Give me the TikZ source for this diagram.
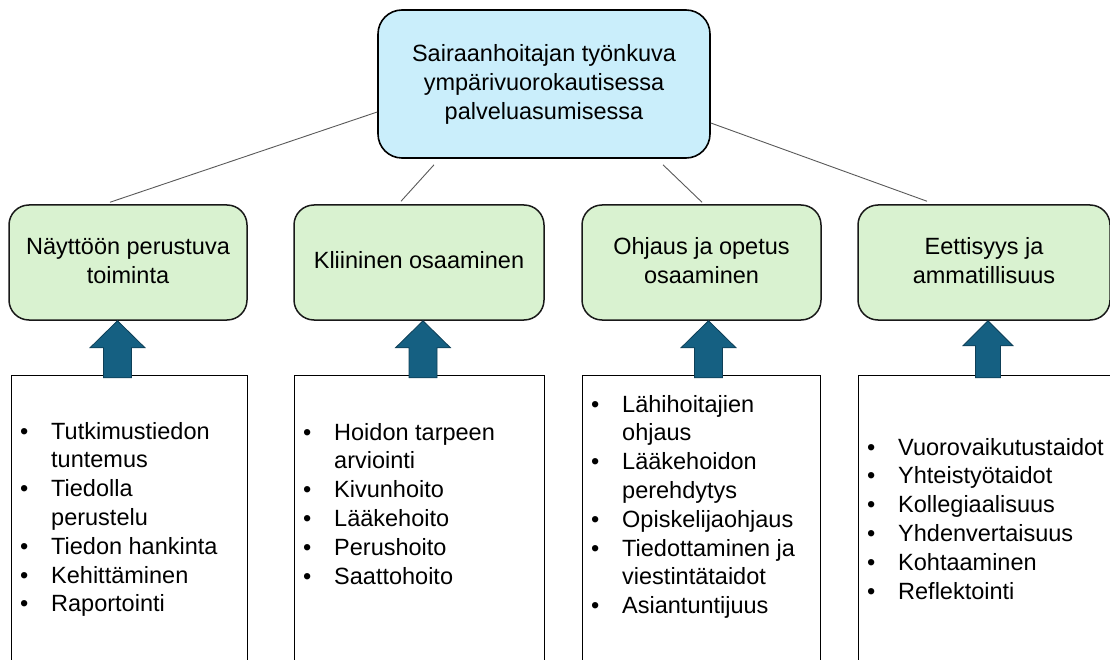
\documentclass[tikz,border=0pt]{standalone}
\usepackage{fontspec}
\setmainfont{Liberation Sans}
\usetikzlibrary{calc}
\definecolor{topfill}{HTML}{CAEEFB}
\definecolor{greenfill}{HTML}{D9F2D0}
\definecolor{arrfill}{HTML}{156082}
\definecolor{arrline}{HTML}{0E3F57}
\definecolor{connc}{HTML}{595959}
\newcommand{\mystr}{\rule[-6pt]{0pt}{25pt}}
\begin{document}
\begin{tikzpicture}[x=1pt,y=-1pt,
  txt/.style={font=\fontsize{23.5}{28.8}\selectfont, text=black},
  topbox/.style={txt, draw=black, line width=1.6pt, fill=topfill, rounded corners=24pt,
    align=center, inner sep=0pt, minimum width=332pt, minimum height=148pt},
  catbox/.style={txt, draw=black!90, line width=1.5pt, fill=greenfill, rounded corners=20pt,
    align=center, inner sep=0pt, minimum height=115pt},
  listbox/.style={draw=black, line width=1.4pt, fill=white, minimum height=300pt,
    anchor=north west, inner sep=0pt},
  listtxt/.style={txt, anchor=base west, inner sep=0pt},
  conn/.style={draw=connc, line width=0.9pt},
  blockarrow/.style={fill=arrfill, draw=arrline, line width=0.8pt, line join=miter}]
\useasboundingbox (0,0) rectangle (1110,660);
\clip (0,0) rectangle (1110,660);

% top box
\node[topbox] (top) at (544,84) {\mystr Sairaanhoitajan työnkuva\\ \mystr ympärivuorokautisessa\\ \mystr palveluasumisessa};

% category boxes
\node[catbox, minimum width=238pt] (g1) at (128,262.5) {\mystr Näyttöön perustuva\\ \mystr toiminta};
\node[catbox, minimum width=250pt] (g2) at (419,262.5) {\mystr Kliininen osaaminen};
\node[catbox, minimum width=239pt] (g3) at (701.5,262.5) {\mystr Ohjaus ja opetus\\ \mystr osaaminen};
\node[catbox, minimum width=252pt] (g4) at (984,262.5) {\mystr Eettisyys ja\\ \mystr ammatillisuus};

% connectors
\draw[conn] ([yshift=-28pt]top.west) -- ([xshift=-18pt,yshift=2pt]g1.north);
\draw[conn] ([xshift=-110pt,yshift=-6pt]top.south) -- ([xshift=-18pt,yshift=3pt]g2.north);
\draw[conn] ([xshift=119pt,yshift=-6pt]top.south) -- ([xshift=0.5pt,yshift=2pt]g3.north);
\draw[conn] ([yshift=-39pt]top.east) -- ([xshift=-57pt,yshift=3pt]g4.north);

% list boxes
\node[listbox, minimum width=236pt] (b1) at (11,375) {};
\node[listbox, minimum width=250pt] (b2) at (294,375) {};
\node[listbox, minimum width=238pt] (b3) at (582,375) {};
\node[listbox, minimum width=262pt] (b4) at (858,375) {};

\node[listtxt] (l1) at (20,439) {\begin{tabular}[t]{@{}p{31pt}@{}l@{}}
\textbullet & Tutkimustiedon\\ & tuntemus\\
\textbullet & Tiedolla\\ & perustelu\\
\textbullet & Tiedon hankinta\\
\textbullet & Kehittäminen\\
\textbullet & Raportointi
\end{tabular}};
\node[listtxt] (l2) at (303,440) {\begin{tabular}[t]{@{}p{31pt}@{}l@{}}
\textbullet & Hoidon tarpeen\\ & arviointi\\
\textbullet & Kivunhoito\\
\textbullet & Lääkehoito\\
\textbullet & Perushoito\\
\textbullet & Saattohoito
\end{tabular}};
\node[listtxt] (l3) at (591,412) {\begin{tabular}[t]{@{}p{31pt}@{}l@{}}
\textbullet & Lähihoitajien\\ & ohjaus\\
\textbullet & Lääkehoidon\\ & perehdytys\\
\textbullet & Opiskelijaohjaus\\
\textbullet & Tiedottaminen ja\\ & viestintätaidot\\
\textbullet & Asiantuntijuus
\end{tabular}};
\node[listtxt] (l4) at (867,455) {\begin{tabular}[t]{@{}p{31pt}@{}l@{}}
\textbullet & Vuorovaikutustaidot\\
\textbullet & Yhteistyötaidot\\
\textbullet & Kollegiaalisuus\\
\textbullet & Yhdenvertaisuus\\
\textbullet & Kohtaaminen\\
\textbullet & Reflektointi
\end{tabular}};

% block arrows
\draw[blockarrow] ([xshift=-10.5pt]g1.south) -- ++(27.5,27) -- ++(-13.5,0) -- ++(0,30) -- ++(-28,0) -- ++(0,-30) -- ++(-13.5,0) -- cycle;
\draw[blockarrow] ([xshift=4pt]g2.south) -- ++(27.5,27) -- ++(-13.5,0) -- ++(0,30) -- ++(-28,0) -- ++(0,-30) -- ++(-13.5,0) -- cycle;
\draw[blockarrow] ([xshift=7pt]g3.south) -- ++(27.5,27) -- ++(-13.5,0) -- ++(0,30) -- ++(-28,0) -- ++(0,-30) -- ++(-13.5,0) -- cycle;
\draw[blockarrow] ([xshift=4pt]g4.south) -- ++(25,25) -- ++(-12.5,0) -- ++(0,32) -- ++(-25,0) -- ++(0,-32) -- ++(-12.5,0) -- cycle;
\end{tikzpicture}
\end{document}
